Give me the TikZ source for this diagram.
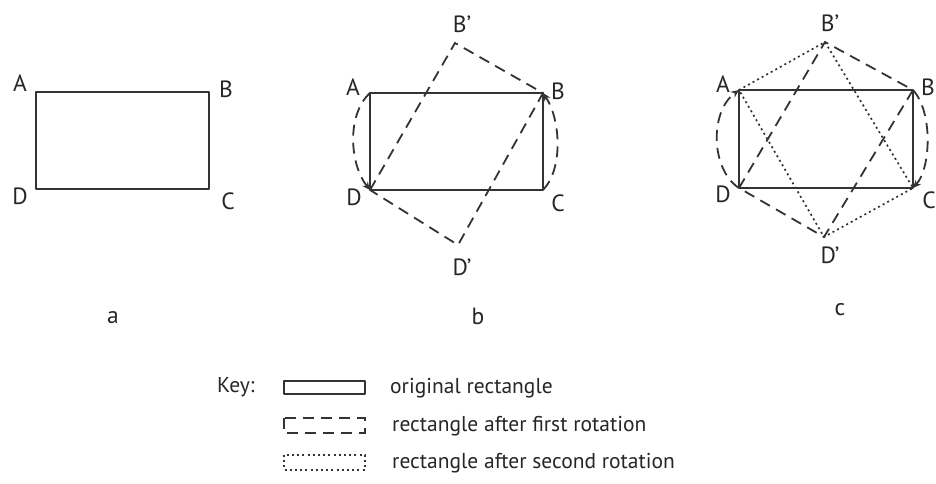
\documentclass[tikz,border=0pt]{standalone}
\usepackage{fontspec}
\setmainfont{PT Sans}
\usetikzlibrary{arrows.meta, positioning}

\begin{document}
\begin{tikzpicture}[x=1pt, y=-1pt,
        orig/.style={draw=black!80, line width=2.4pt, line join=round},
        first/.style={draw=black!80, line width=1.8pt, dash pattern=on 11pt off 7pt},
        second/.style={draw=black!80, line width=1.7pt, dash pattern=on 2pt off 3.2pt},
        turn/.style={first, -{Stealth[length=8pt, width=7pt]}},
        corner/.style={font=\fontsize{23.5}{26}\selectfont, text=black!85, inner sep=0pt},
        keytext/.style={font=\fontsize{21.5}{24}\selectfont, text=black!85, inner sep=0pt, anchor=west}
    ]
        \useasboundingbox (0,0) rectangle (936,484);

        % panel a
        \coordinate (aA) at (36,92);
        \coordinate (aB) at (209,92);
        \coordinate (aC) at (209,189);
        \coordinate (aD) at (36,189);
        \draw[orig] (aA) -- (aB) -- (aC) -- (aD) -- cycle;
        \node[corner] (laA) at (20,83) {A};
        \node[corner] (laB) at (226,89) {B};
        \node[corner] (laC) at (228,201) {C};
        \node[corner] (laD) at (20,196) {D};
        \node[corner] (capa) at (113,318) {a};

        % panel b
        \coordinate (bA) at (370,93);
        \coordinate (bB) at (543,93);
        \coordinate (bC) at (543,190);
        \coordinate (bD) at (370,190);
        \coordinate (bBp) at (455,43);
        \coordinate (bDp) at (458,245);
        \draw[orig] (bA) -- (bB) -- (bC) -- (bD) -- cycle;
        \draw[first] (bD) -- (bBp) -- (bB) -- (bDp) -- cycle;
        \draw[turn] (bA) .. controls (346,115) and (350,165) .. (bD);
        \draw[turn] (bC) .. controls (564,168) and (560,118) .. (bB);
        \node[corner] (lbA) at (353,87) {A};
        \node[corner] (lbB) at (558,91) {B};
        \node[corner] (lbC) at (558,203) {C};
        \node[corner] (lbD) at (354,197) {D};
        \node[corner] (lbBp) at (462,24) {B’};
        \node[corner] (lbDp) at (462,267) {D’};
        \node[corner] (capb) at (478,316) {b};

        % panel c
        \coordinate (cA) at (739,90);
        \coordinate (cB) at (913,90);
        \coordinate (cC) at (913,188);
        \coordinate (cD) at (739,188);
        \coordinate (cBp) at (825,42);
        \coordinate (cDp) at (824,237);
        \draw[orig] (cA) -- (cB) -- (cC) -- (cD) -- cycle;
        \draw[first] (cD) -- (cBp) -- (cB) -- (cDp) -- cycle;
        \draw[second] (cA) -- (cBp) -- (cC) -- (cDp) -- cycle;
        \draw[turn] (cD) .. controls (711,170) and (709,112) .. (cA);
        \draw[turn] (cB) .. controls (933,112) and (931,168) .. (cC);
        \node[corner] (lcA) at (723,84) {A};
        \node[corner] (lcB) at (928,87) {B};
        \node[corner] (lcC) at (929,200) {C};
        \node[corner] (lcD) at (723,194) {D};
        \node[corner] (lcBp) at (830,23) {B’};
        \node[corner] (lcDp) at (830,255) {D’};
        \node[corner] (capc) at (840,310) {c};

        % key
        \node[keytext] (keylbl) at (217,387) {Key:};
        \draw[orig, line width=1.6pt] (284,381) rectangle (365,394);
        \draw[first, line width=1.5pt] (284,418) rectangle (365,433);
        \draw[second, line width=1.4pt] (284,455) rectangle (365,470);
        \node[keytext] (keyorig) at (390,388) {original rectangle};
        \node[keytext] (keyfirst) at (392,426) {rectangle after first rotation};
        \node[keytext] (keysecond) at (392,463) {rectangle after second rotation};
    \end{tikzpicture}
\end{document}
